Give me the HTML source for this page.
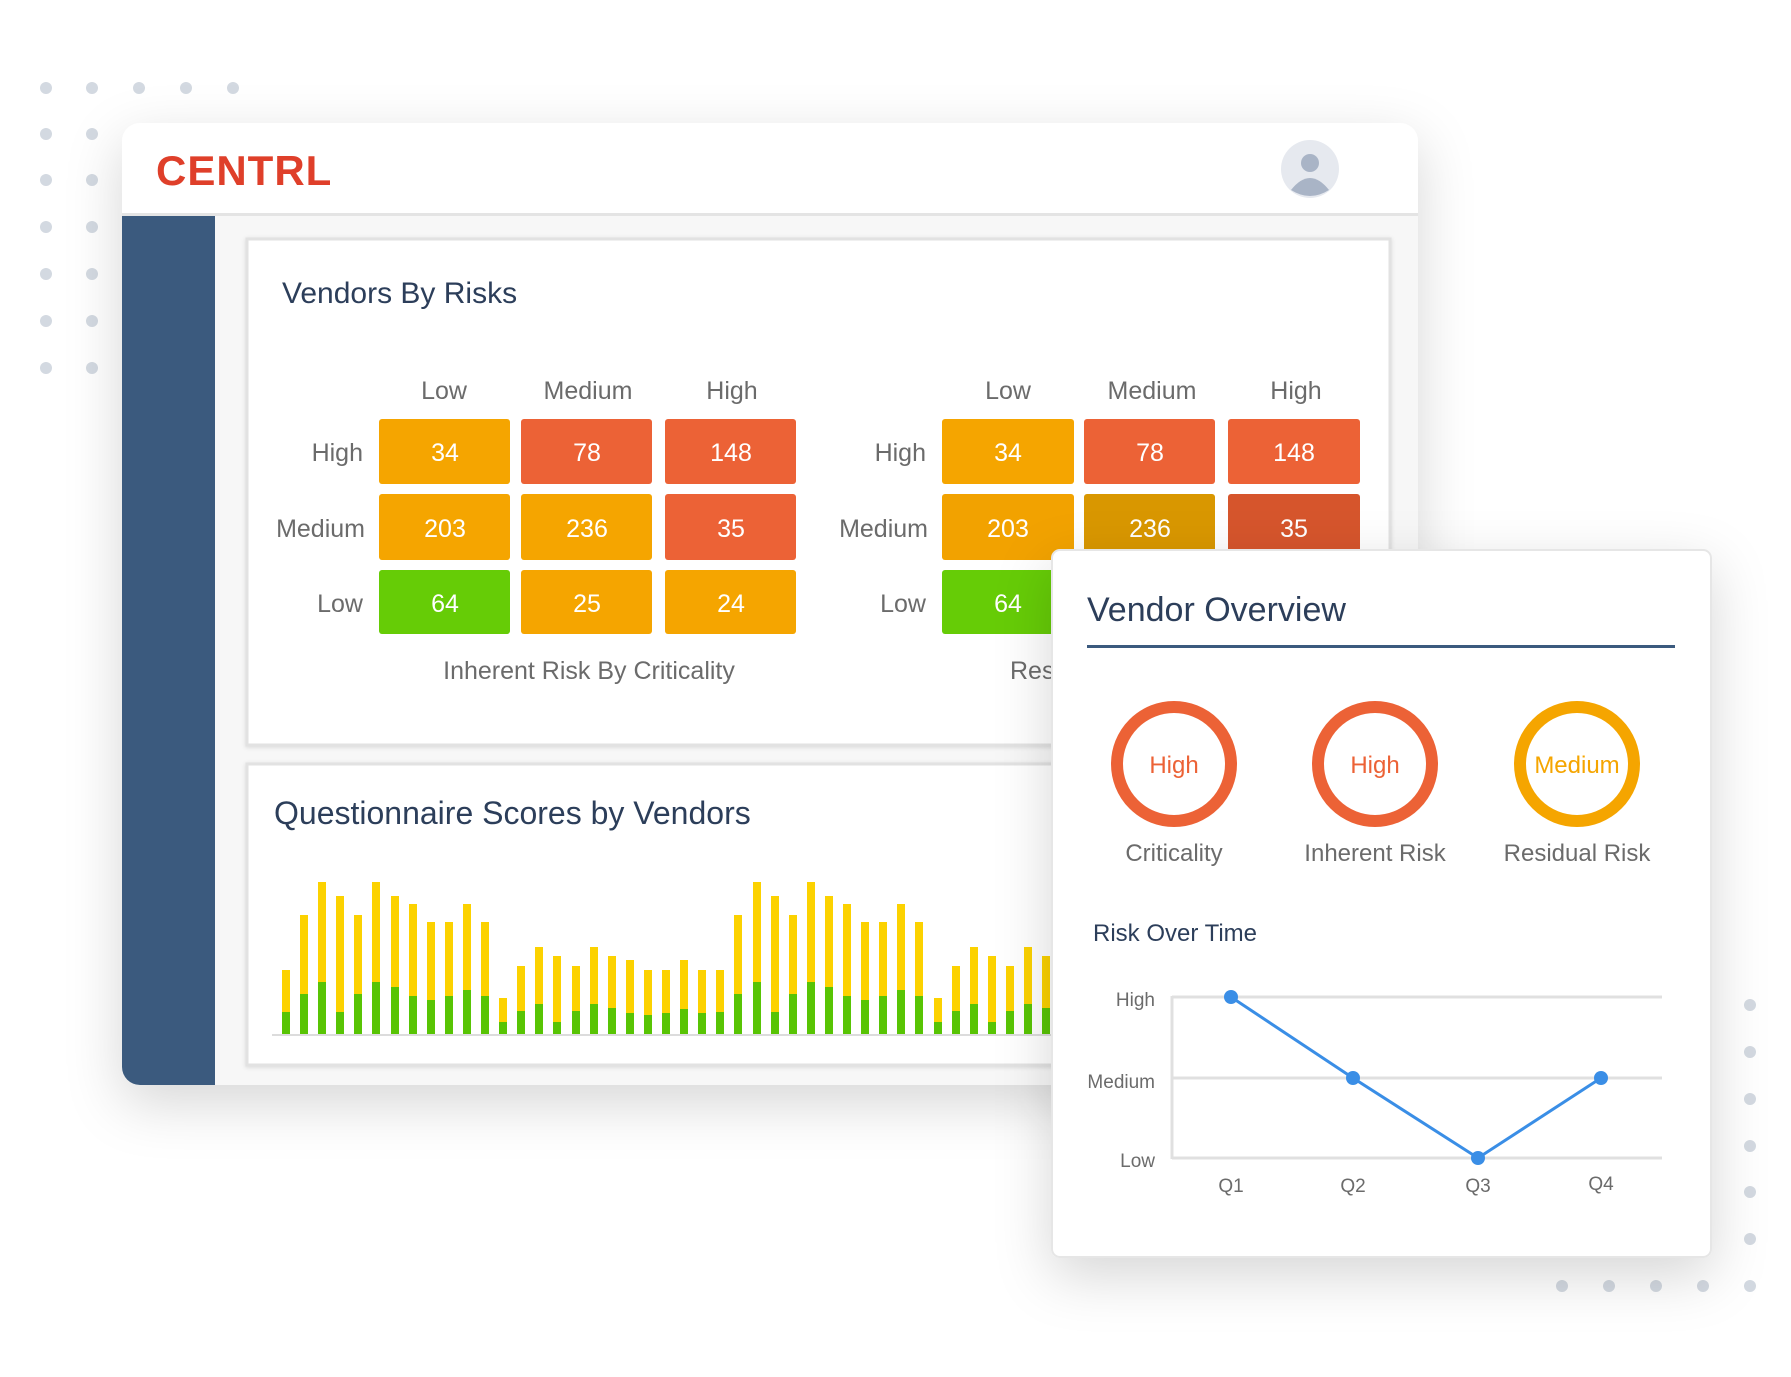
<!DOCTYPE html>
<html><head><meta charset="utf-8"><style>
html,body{margin:0;padding:0;background:#fff;}
svg{display:block;}
text{font-family:"Liberation Sans",sans-serif;}
</style></head><body>
<svg width="1791" height="1377" viewBox="0 0 1791 1377" xmlns="http://www.w3.org/2000/svg">
<defs>
<filter id="sh" x="-20%" y="-20%" width="140%" height="150%"><feDropShadow dx="0" dy="18" stdDeviation="28" flood-color="#000" flood-opacity="0.16"/></filter>
<filter id="sh2" x="-5%" y="-5%" width="110%" height="110%"><feDropShadow dx="0" dy="1" stdDeviation="2" flood-color="#000" flood-opacity="0.12"/></filter>
</defs>
<rect width="1791" height="1377" fill="#fff"/>
<g fill="#d3d9e1">
<circle cx="46" cy="88" r="6"/><circle cx="92" cy="88" r="6"/><circle cx="139" cy="88" r="6"/><circle cx="186" cy="88" r="6"/><circle cx="233" cy="88" r="6"/>
<circle cx="46" cy="134" r="6"/><circle cx="92" cy="134" r="6"/>
<circle cx="46" cy="180" r="6"/><circle cx="92" cy="180" r="6"/>
<circle cx="46" cy="227" r="6"/><circle cx="92" cy="227" r="6"/>
<circle cx="46" cy="274" r="6"/><circle cx="92" cy="274" r="6"/>
<circle cx="46" cy="321" r="6"/><circle cx="92" cy="321" r="6"/>
<circle cx="46" cy="368" r="6"/><circle cx="92" cy="368" r="6"/>
<circle cx="1750" cy="1005" r="6"/><circle cx="1750" cy="1052" r="6"/><circle cx="1750" cy="1099" r="6"/><circle cx="1750" cy="1146" r="6"/><circle cx="1750" cy="1192" r="6"/><circle cx="1750" cy="1239" r="6"/><circle cx="1750" cy="1286" r="6"/>
<circle cx="1562" cy="1286" r="6"/><circle cx="1609" cy="1286" r="6"/><circle cx="1656" cy="1286" r="6"/><circle cx="1703" cy="1286" r="6"/>
</g>
<g filter="url(#sh)">
<rect x="122" y="123" width="1296" height="962" rx="18" fill="#f7f7f7"/>
</g>
<path d="M140 123 H1400 A18 18 0 0 1 1418 141 V215 H122 V141 A18 18 0 0 1 140 123Z" fill="#fff"/>
<rect x="122" y="213" width="1296" height="3" fill="#e4e4e4"/>
<path d="M122 216 H215 V1085 H140 A18 18 0 0 1 122 1067Z" fill="#3b5a7e"/>
<text x="156" y="185" font-size="42" fill="#df3f2a" font-weight="bold" letter-spacing="1">CENTRL</text>
<circle cx="1310" cy="169" r="29" fill="#e6e9ef"/>
<circle cx="1310" cy="163" r="9" fill="#a9b4c6"/>
<path d="M1291 190 Q1310 166 1329 190 Q1310 202 1291 190Z" fill="#a9b4c6"/>
<rect x="247" y="239" width="1143" height="506" fill="#fff" stroke="#e2e2e2" stroke-width="3" filter="url(#sh2)"/>
<text x="282" y="303" font-size="30" fill="#2c3e5a">Vendors By Risks</text>
<g font-size="25" fill="#6b6b6b" text-anchor="middle">
<text x="444" y="399">Low</text><text x="588" y="399">Medium</text><text x="732" y="399">High</text>
<text x="1008" y="399">Low</text><text x="1152" y="399">Medium</text><text x="1296" y="399">High</text>
</g>
<g font-size="25" fill="#6b6b6b" text-anchor="end">
<text x="363" y="461">High</text><text x="365" y="537">Medium</text><text x="363" y="612">Low</text>
<text x="926" y="461">High</text><text x="928" y="537">Medium</text><text x="926" y="612">Low</text>
</g>
<g>
<rect x="379" y="419" width="131" height="65" rx="3" fill="#f5a500"/>
<rect x="521" y="419" width="131" height="65" rx="3" fill="#ec6236"/>
<rect x="665" y="419" width="131" height="65" rx="3" fill="#ec6236"/>
<rect x="379" y="494" width="131" height="66" rx="3" fill="#f5a500"/>
<rect x="521" y="494" width="131" height="66" rx="3" fill="#f5a500"/>
<rect x="665" y="494" width="131" height="66" rx="3" fill="#ec6236"/>
<rect x="379" y="570" width="131" height="64" rx="3" fill="#66cc06"/>
<rect x="521" y="570" width="131" height="64" rx="3" fill="#f5a500"/>
<rect x="665" y="570" width="131" height="64" rx="3" fill="#f5a500"/>
<rect x="942" y="419" width="132" height="65" rx="3" fill="#f5a500"/>
<rect x="1084" y="419" width="131" height="65" rx="3" fill="#ec6236"/>
<rect x="1228" y="419" width="132" height="65" rx="3" fill="#ec6236"/>
<rect x="942" y="494" width="132" height="66" rx="3" fill="#f2a200"/>
<rect x="1084" y="494" width="131" height="66" rx="3" fill="#d99700"/>
<rect x="1228" y="494" width="132" height="66" rx="3" fill="#d6552c"/>
<rect x="942" y="570" width="132" height="64" rx="3" fill="#66cc06"/>
</g>
<g font-size="25" fill="#fff" text-anchor="middle">
<text x="445" y="461">34</text><text x="587" y="461">78</text><text x="731" y="461">148</text>
<text x="445" y="537">203</text><text x="587" y="537">236</text><text x="731" y="537">35</text>
<text x="445" y="612">64</text><text x="587" y="612">25</text><text x="731" y="612">24</text>
<text x="1008" y="461">34</text><text x="1150" y="461">78</text><text x="1294" y="461">148</text>
<text x="1008" y="537">203</text><text x="1150" y="537">236</text><text x="1294" y="537">35</text>
<text x="1008" y="612">64</text>
</g>
<text x="589" y="679" font-size="25" fill="#6b6b6b" text-anchor="middle">Inherent Risk By Criticality</text>
<text x="1010" y="679" font-size="25" fill="#6b6b6b">Res</text>
<rect x="247" y="764" width="1143" height="301" fill="#fff" stroke="#e2e2e2" stroke-width="3" filter="url(#sh2)"/>
<text x="274" y="824" font-size="32" fill="#2c3e5a">Questionnaire Scores by Vendors</text>
<g fill="#fcd200">
<rect x="282" y="970" width="8" height="64"/><rect x="300" y="915" width="8" height="119"/><rect x="318" y="882" width="8" height="152"/><rect x="336" y="896" width="8" height="138"/><rect x="354" y="915" width="8" height="119"/><rect x="372" y="882" width="8" height="152"/><rect x="391" y="896" width="8" height="138"/><rect x="409" y="904" width="8" height="130"/><rect x="427" y="922" width="8" height="112"/><rect x="445" y="922" width="8" height="112"/><rect x="463" y="904" width="8" height="130"/><rect x="481" y="922" width="8" height="112"/><rect x="499" y="998" width="8" height="36"/><rect x="517" y="966" width="8" height="68"/><rect x="535" y="947" width="8" height="87"/><rect x="553" y="956" width="8" height="78"/><rect x="572" y="966" width="8" height="68"/><rect x="590" y="947" width="8" height="87"/><rect x="608" y="956" width="8" height="78"/><rect x="626" y="960" width="8" height="74"/><rect x="644" y="970" width="8" height="64"/><rect x="662" y="970" width="8" height="64"/><rect x="680" y="960" width="8" height="74"/><rect x="698" y="970" width="8" height="64"/><rect x="716" y="970" width="8" height="64"/><rect x="734" y="915" width="8" height="119"/><rect x="753" y="882" width="8" height="152"/><rect x="771" y="896" width="8" height="138"/><rect x="789" y="915" width="8" height="119"/><rect x="807" y="882" width="8" height="152"/><rect x="825" y="896" width="8" height="138"/><rect x="843" y="904" width="8" height="130"/><rect x="861" y="922" width="8" height="112"/><rect x="879" y="922" width="8" height="112"/><rect x="897" y="904" width="8" height="130"/><rect x="915" y="922" width="8" height="112"/><rect x="934" y="998" width="8" height="36"/><rect x="952" y="966" width="8" height="68"/><rect x="970" y="947" width="8" height="87"/><rect x="988" y="956" width="8" height="78"/><rect x="1006" y="966" width="8" height="68"/><rect x="1024" y="947" width="8" height="87"/><rect x="1042" y="956" width="8" height="78"/>
</g>
<g fill="#58c404">
<rect x="282" y="1012" width="8" height="22"/><rect x="300" y="994" width="8" height="40"/><rect x="318" y="982" width="8" height="52"/><rect x="336" y="1012" width="8" height="22"/><rect x="354" y="994" width="8" height="40"/><rect x="372" y="982" width="8" height="52"/><rect x="391" y="987" width="8" height="47"/><rect x="409" y="996" width="8" height="38"/><rect x="427" y="1000" width="8" height="34"/><rect x="445" y="996" width="8" height="38"/><rect x="463" y="990" width="8" height="44"/><rect x="481" y="996" width="8" height="38"/><rect x="499" y="1022" width="8" height="12"/><rect x="517" y="1011" width="8" height="23"/><rect x="535" y="1004" width="8" height="30"/><rect x="553" y="1022" width="8" height="12"/><rect x="572" y="1011" width="8" height="23"/><rect x="590" y="1004" width="8" height="30"/><rect x="608" y="1008" width="8" height="26"/><rect x="626" y="1013" width="8" height="21"/><rect x="644" y="1015" width="8" height="19"/><rect x="662" y="1013" width="8" height="21"/><rect x="680" y="1009" width="8" height="25"/><rect x="698" y="1013" width="8" height="21"/><rect x="716" y="1012" width="8" height="22"/><rect x="734" y="994" width="8" height="40"/><rect x="753" y="982" width="8" height="52"/><rect x="771" y="1012" width="8" height="22"/><rect x="789" y="994" width="8" height="40"/><rect x="807" y="982" width="8" height="52"/><rect x="825" y="987" width="8" height="47"/><rect x="843" y="996" width="8" height="38"/><rect x="861" y="1000" width="8" height="34"/><rect x="879" y="996" width="8" height="38"/><rect x="897" y="990" width="8" height="44"/><rect x="915" y="996" width="8" height="38"/><rect x="934" y="1022" width="8" height="12"/><rect x="952" y="1011" width="8" height="23"/><rect x="970" y="1004" width="8" height="30"/><rect x="988" y="1022" width="8" height="12"/><rect x="1006" y="1011" width="8" height="23"/><rect x="1024" y="1004" width="8" height="30"/><rect x="1042" y="1008" width="8" height="26"/>
</g>
<rect x="272" y="1034" width="790" height="2" fill="#dcdcdc"/>
<g filter="url(#sh)">
<rect x="1052" y="550" width="659" height="707" rx="8" fill="#fff" stroke="#e6e6e6" stroke-width="2"/>
</g>
<text x="1087" y="621" font-size="34" fill="#2c3e5a">Vendor Overview</text>
<rect x="1087" y="645" width="588" height="3" fill="#3b5a7e"/>
<circle cx="1174" cy="764" r="57" fill="none" stroke="#ec6236" stroke-width="12"/>
<circle cx="1375" cy="764" r="57" fill="none" stroke="#ec6236" stroke-width="12"/>
<circle cx="1577" cy="764" r="57" fill="none" stroke="#f5a500" stroke-width="12"/>
<g font-size="24" text-anchor="middle">
<text x="1174" y="773" fill="#ec6236">High</text>
<text x="1375" y="773" fill="#ec6236">High</text>
<text x="1577" y="773" fill="#f5a500">Medium</text>
</g>
<g font-size="24" text-anchor="middle" fill="#6b6b6b">
<text x="1174" y="861">Criticality</text>
<text x="1375" y="861">Inherent Risk</text>
<text x="1577" y="861">Residual Risk</text>
</g>
<text x="1093" y="941" font-size="24" fill="#2c3e5a">Risk Over Time</text>
<g stroke="#e0e0e0" stroke-width="3" fill="none">
<line x1="1172" y1="997" x2="1662" y2="997"/>
<line x1="1172" y1="1078" x2="1662" y2="1078"/>
<line x1="1172" y1="1158" x2="1662" y2="1158"/>
<line x1="1172" y1="996" x2="1172" y2="1159"/>
</g>
<g font-size="19" fill="#6b6b6b" text-anchor="end">
<text x="1155" y="1006">High</text><text x="1155" y="1088">Medium</text><text x="1155" y="1167">Low</text>
</g>
<g font-size="19" fill="#6b6b6b" text-anchor="middle">
<text x="1231" y="1192">Q1</text><text x="1353" y="1192">Q2</text><text x="1478" y="1192">Q3</text><text x="1601" y="1190">Q4</text>
</g>
<polyline points="1231,997 1353,1078 1478,1158 1601,1078" fill="none" stroke="#3a8ee6" stroke-width="3"/>
<g fill="#3a8ee6">
<circle cx="1231" cy="997" r="7"/><circle cx="1353" cy="1078" r="7"/><circle cx="1478" cy="1158" r="7"/><circle cx="1601" cy="1078" r="7"/>
</g>
</svg>
</body></html>
